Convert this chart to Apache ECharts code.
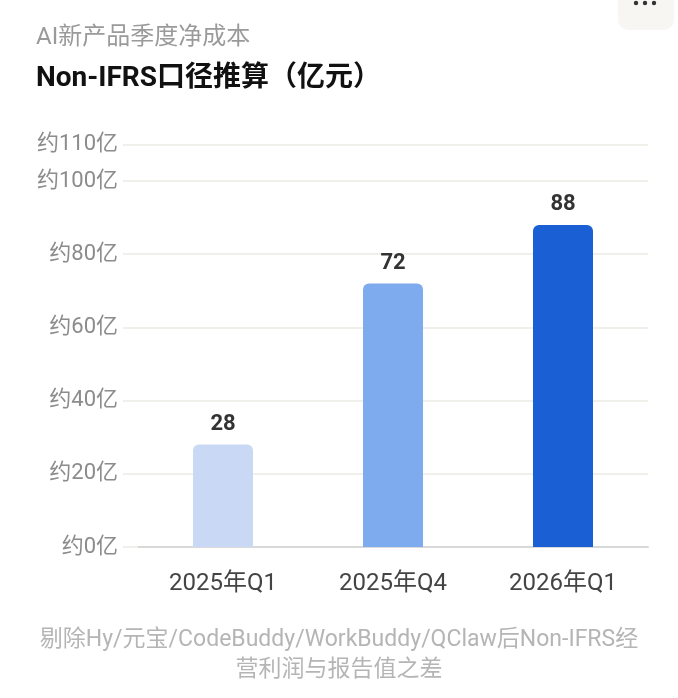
<!DOCTYPE html>
<html><head><meta charset="utf-8">
<script src="https://cdn.jsdelivr.net/npm/echarts@6/dist/echarts.min.js"></script>
<style>html,body{margin:0;padding:0;background:#fff}#c{width:678px;height:698px}</style>
</head><body><div id="c"></div>
<script>
const categories = ['2025年Q1', '2025年Q4', '2026年Q1'];
const values = [28, 72, 88];
const barColors = ['#C9D8F4', '#7EAAEE', '#1A5FD3'];
const titleText = 'AI新产品季度净成本';
const subtitleText = 'Non-IFRS口径推算（亿元）';
const footnote = '剔除Hy/元宝/CodeBuddy/WorkBuddy/QClaw后Non-IFRS经\n营利润与报告值之差';
const FONT = 'Roboto, "Noto Sans CJK SC", sans-serif';

const chart = echarts.init(document.getElementById('c'), null, {renderer: 'canvas'});
chart.setOption({
  animation: false,
  textStyle: {fontFamily: FONT},
  title: [
    {text: titleText, left: 31, top: 21, textStyle: {fontFamily: FONT, fontSize: 24, fontWeight: 'normal', color: '#9a9a9a'}},
    {text: subtitleText, left: 31, top: 60, textStyle: {fontFamily: FONT, fontSize: 28, fontWeight: 'bold', color: '#111'}}
  ],
  graphic: [
    {type: 'rect', shape: {x: 618, y: -20, width: 56, height: 50, r: 10}, style: {fill: '#f7f6f2'}},
    {type: 'circle', shape: {cx: 636, cy: 3, r: 2.2}, style: {fill: '#333'}},
    {type: 'circle', shape: {cx: 645, cy: 3, r: 2.2}, style: {fill: '#333'}},
    {type: 'circle', shape: {cx: 654, cy: 3, r: 2.2}, style: {fill: '#333'}},
    {type: 'text', x: 339, y: 655, style: {text: footnote, font: 'normal 23px ' + FONT, fill: '#b5b5b5', align: 'center', verticalAlign: 'middle', lineHeight: 30}}
  ],
  grid: {left: 138, right: 30, top: 144.4, bottom: 151, containLabel: false},
  xAxis: {
    type: 'category', data: categories,
    axisLine: {show: true, lineStyle: {color: '#d9d9d9', width: 2}},
    axisTick: {show: false},
    axisLabel: {fontFamily: FONT, fontSize: 24, color: '#444', margin: 25}
  },
  yAxis: {
    type: 'value', min: 0, max: 110, interval: 20,
    axisLine: {show: false},
    axisTick: {show: true, length: 15, lineStyle: {color: '#f0efea', width: 2}},
    splitLine: {lineStyle: {color: '#f0efea', width: 2}},
    axisLabel: {fontFamily: FONT, fontSize: 22, color: '#8c8c8c', margin: 20, formatter: v => '约' + v + '亿'}
  },
  series: [{
    type: 'bar', barWidth: 60,
    data: values.map((v, i) => ({value: v, itemStyle: {color: barColors[i], borderRadius: [6, 6, 0, 0]}})),
    label: {show: true, position: 'top', distance: 9, fontFamily: FONT, fontSize: 22, fontWeight: 'bold', color: '#333'}
  }]
});
</script></body></html>
